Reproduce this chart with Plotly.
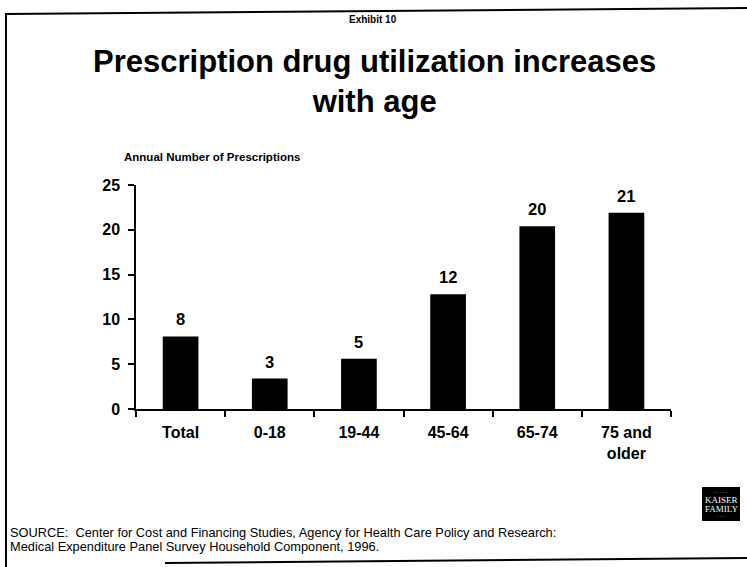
import plotly.graph_objects as go

# ---- data ----
categories = ["Total", "0-18", "19-44", "45-64", "65-74", "75 and<br>older"]
values = [8.1, 3.4, 5.6, 12.8, 20.4, 21.9]
value_labels = ["8", "3", "5", "12", "20", "21"]
y_ticks = [0, 5, 10, 15, 20, 25]

title_text = "Prescription drug utilization increases<br>with age"
exhibit_text = "Exhibit 10"
yaxis_label = "Annual Number of Prescriptions"
source_lines = [
    "SOURCE:  Center for Cost and Financing Studies, Agency for Health Care Policy and Research:",
    "Medical Expenditure Panel Survey Household Component, 1996.",
]

# ---- layout geometry ----
W, H = 747, 567
L, R, T, B = 136, 76, 185, 158
PW, PH = W - L - R, H - T - B
FONT = "Liberation Sans, Arial, sans-serif"


def px(x):
    return (x - L) / PW


def py(y):
    return (H - B - y) / PH


fig = go.Figure()
fig.add_trace(go.Bar(
    x=categories, y=values, width=0.4,
    marker=dict(color="black", line=dict(width=0)),
    hoverinfo="skip",
))

for c, v, t in zip(categories, values, value_labels):
    fig.add_annotation(x=c, y=v, text=t, showarrow=False,
                       yanchor="bottom", yshift=6,
                       font=dict(family=FONT, size=16.5, color="black", weight="bold"))

annotations_extra = [
    dict(x=px(373), y=py(19), text=exhibit_text, size=10),
    dict(x=px(374), y=py(81), text=title_text, size=31),
    dict(x=px(212), y=py(157), text=yaxis_label, size=11.5),
]
for a in annotations_extra:
    fig.add_annotation(x=a["x"], y=a["y"], xref="paper", yref="paper", text=a["text"],
                       showarrow=False, xanchor="center", yanchor="middle",
                       font=dict(family=FONT, size=a["size"], color="black", weight="bold"))

for i, line in enumerate(source_lines):
    fig.add_annotation(x=px(8), y=py(532 + 14 * i), xref="paper", yref="paper", text=line,
                       showarrow=False, xanchor="left", yanchor="middle",
                       font=dict(family=FONT, size=12.8, color="black"))

# border lines (scanned slide frame)
frame = [((5, 14), (747, 8)), ((6, 14), (6, 567)), ((165, 563), (747, 558))]
for (x0, y0), (x1, y1) in frame:
    fig.add_shape(type="line", xref="paper", yref="paper",
                  x0=px(x0), y0=py(y0), x1=px(x1), y1=py(y1),
                  line=dict(color="black", width=2))

# logo
fig.add_shape(type="rect", xref="paper", yref="paper",
              x0=px(702), x1=px(740), y0=py(521), y1=py(487),
              fillcolor="black", line=dict(width=0))
for txt, yy, sz in [("· · · · ·", 492, 5), ("KAISER", 500, 9), ("FAMILY", 509, 9), ("· · ·", 516, 5)]:
    fig.add_annotation(x=px(721), y=py(yy), xref="paper", yref="paper", text=txt,
                       showarrow=False, xanchor="center", yanchor="middle",
                       font=dict(family="Liberation Serif, serif", size=sz, color="white"))

fig.update_layout(
    width=W, height=H,
    margin=dict(l=L, r=R, t=T, b=B),
    paper_bgcolor="white", plot_bgcolor="white",
    showlegend=False,
    xaxis=dict(
        type="category", showline=True, linecolor="black", linewidth=1.5,
        ticks="outside", tickson="boundaries", ticklen=6, tickcolor="black", tickwidth=1.5,
        tickfont=dict(family=FONT, size=16, color="black", weight="bold"),
        showgrid=False, zeroline=False, ticklabelstandoff=8,
    ),
    yaxis=dict(
        range=[0, 25], tickvals=y_ticks, showline=True, linecolor="black", linewidth=1.5,
        ticks="outside", ticklen=6, tickcolor="black", tickwidth=1.5,
        tickfont=dict(family=FONT, size=16, color="black", weight="bold"),
        showgrid=False, zeroline=False, ticklabelstandoff=5,
    ),
)

fig.write_html("out.html")
